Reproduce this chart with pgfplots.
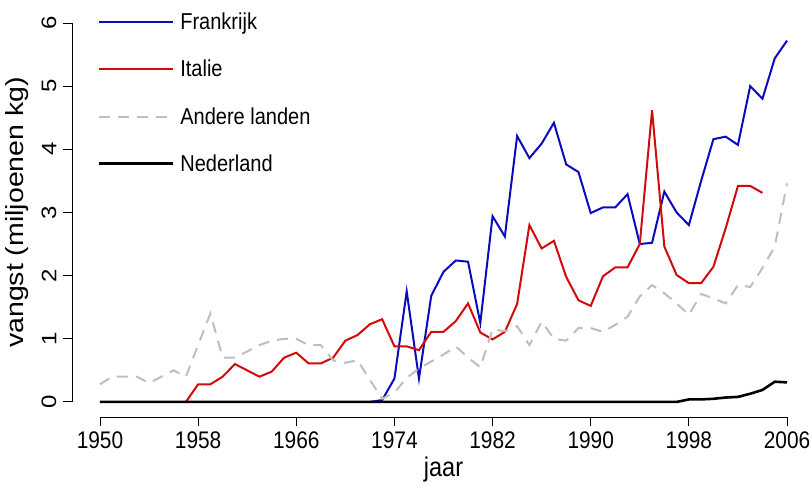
\documentclass[border=0pt]{standalone}
\usepackage{pgfplots}
\pgfplotsset{compat=1.18}
\usepackage{fontspec}
\setmainfont[FakeStretch=0.87]{Liberation Sans}
\newfontfamily\ylabfont{Liberation Sans}
\definecolor{fr}{RGB}{10,10,190}
\definecolor{it}{RGB}{210,10,10}
\definecolor{ot}{RGB}{190,190,190}
\begin{document}
\begin{tikzpicture}
\begin{axis}[
  name=ax,
  scale only axis,
  width=742pt, height=409.3pt,
  xmin=1947.76, xmax=2008.24,
  ymin=-0.24, ymax=6.24,
  clip=false,
  axis line style={draw=none},
  xtick={1950,1958,...,2006},
  ytick={0,1,...,6},
  xtick pos=bottom, ytick pos=left,
  tick align=outside,
  major tick length=9pt,
  tick style={black, line width=0.9pt},
  /pgf/number format/assume math mode=true,
  /pgf/number format/1000 sep={},
  xticklabel style={font=\fontsize{24}{27}\selectfont, yshift=-2pt},
  yticklabel style={font=\ylabfont\fontsize{24}{27}\selectfont, rotate=90, anchor=south, inner sep=0pt, yshift=7pt, yscale=0.87},
  xlabel={jaar},
  ylabel={vangst (miljoenen kg)},
  xlabel style={font=\fontsize{27}{30}\selectfont, yshift=-1pt},
  ylabel style={font=\ylabfont\fontsize{28.5}{31}\selectfont, yshift=10pt, yscale=0.87},
  legend style={draw=none, fill=none, at={(axis cs:1949.8,6.175)}, anchor=north west,
    font=\fontsize{23}{26}\selectfont, row sep=27pt, inner sep=0pt,
    nodes={inner sep=1pt},
    /tikz/every odd column/.append style={column sep=5pt}},
  legend cell align=left,
  legend image code/.code={\draw[#1] (0pt,0pt) -- (74pt,0pt);},
]
\addplot[fr, line width=2pt] coordinates {
(1972,0) (1973,0.03) (1974,0.37) (1975,1.75) (1976,0.37) (1977,1.68) (1978,2.06)
(1979,2.24) (1980,2.22) (1981,1.25) (1982,2.94) (1983,2.62) (1984,4.21) (1985,3.86)
(1986,4.09) (1987,4.42) (1988,3.76) (1989,3.64) (1990,2.99) (1991,3.08) (1992,3.08)
(1993,3.29) (1994,2.50) (1995,2.52) (1996,3.33) (1997,3.00) (1998,2.80) (1999,3.50)
(2000,4.16) (2001,4.20) (2002,4.07) (2003,5.00) (2004,4.80) (2005,5.44) (2006,5.72)};
\addlegendentry{Frankrijk}
\addplot[it, line width=2pt] coordinates {
(1957,0) (1958,0.28) (1959,0.28) (1960,0.40) (1961,0.60) (1962,0.50) (1963,0.40)
(1964,0.48) (1965,0.70) (1966,0.78) (1967,0.61) (1968,0.61) (1969,0.70) (1970,0.97)
(1971,1.06) (1972,1.23) (1973,1.31) (1974,0.88) (1975,0.88) (1976,0.82) (1977,1.11)
(1978,1.11) (1979,1.28) (1980,1.56) (1981,1.10) (1982,0.99) (1983,1.11) (1984,1.55)
(1985,2.80) (1986,2.43) (1987,2.55) (1988,1.98) (1989,1.61) (1990,1.52) (1991,1.99)
(1992,2.13) (1993,2.13) (1994,2.50) (1995,4.62) (1996,2.46) (1997,2.01) (1998,1.88)
(1999,1.88) (2000,2.14) (2001,2.75) (2002,3.42) (2003,3.42) (2004,3.31)};
\addlegendentry{Italie}
\addplot[ot, line width=2pt, dash pattern=on 11pt off 8pt] coordinates {
(1950,0.28) (1951,0.40) (1952,0.40) (1953,0.40) (1954,0.30) (1955,0.40) (1956,0.50)
(1957,0.40) (1958,0.90) (1959,1.40) (1960,0.70) (1961,0.70) (1962,0.80) (1963,0.90)
(1964,0.97) (1965,1.00) (1966,1.00) (1967,0.90) (1968,0.90) (1969,0.66) (1970,0.62)
(1971,0.66) (1972,0.35) (1973,0.05) (1974,0.15) (1975,0.38) (1976,0.53) (1977,0.64)
(1978,0.75) (1979,0.88) (1980,0.70) (1981,0.55) (1982,1.15) (1983,1.12) (1984,1.20)
(1985,0.90) (1986,1.27) (1987,1.00) (1988,0.97) (1989,1.17) (1990,1.17) (1991,1.11)
(1992,1.22) (1993,1.35) (1994,1.67) (1995,1.85) (1996,1.72) (1997,1.56) (1998,1.38)
(1999,1.71) (2000,1.64) (2001,1.56) (2002,1.85) (2003,1.82) (2004,2.12) (2005,2.46)
(2006,3.46)};
\addlegendentry{Andere landen}
\addplot[black, line width=2.6pt] coordinates {
(1950,0) (1960,0) (1970,0) (1980,0) (1990,0) (1997,0) (1998,0.04) (1999,0.04)
(2000,0.05) (2001,0.07) (2002,0.08) (2003,0.13) (2004,0.19) (2005,0.32) (2006,0.31)};
\addlegendentry{Nederland}
\draw[black, line width=0.9pt] (axis cs:1950,-0.24) -- (axis cs:2006,-0.24);
\draw[black, line width=0.9pt] (axis cs:1947.76,0) -- (axis cs:1947.76,6);
\end{axis}
\pgfresetboundingbox
\path ([xshift=-72.5pt,yshift=-73.8pt]ax.south west) rectangle ([xshift=-3.5pt,yshift=7.8pt]ax.north east);
\end{tikzpicture}
\end{document}
